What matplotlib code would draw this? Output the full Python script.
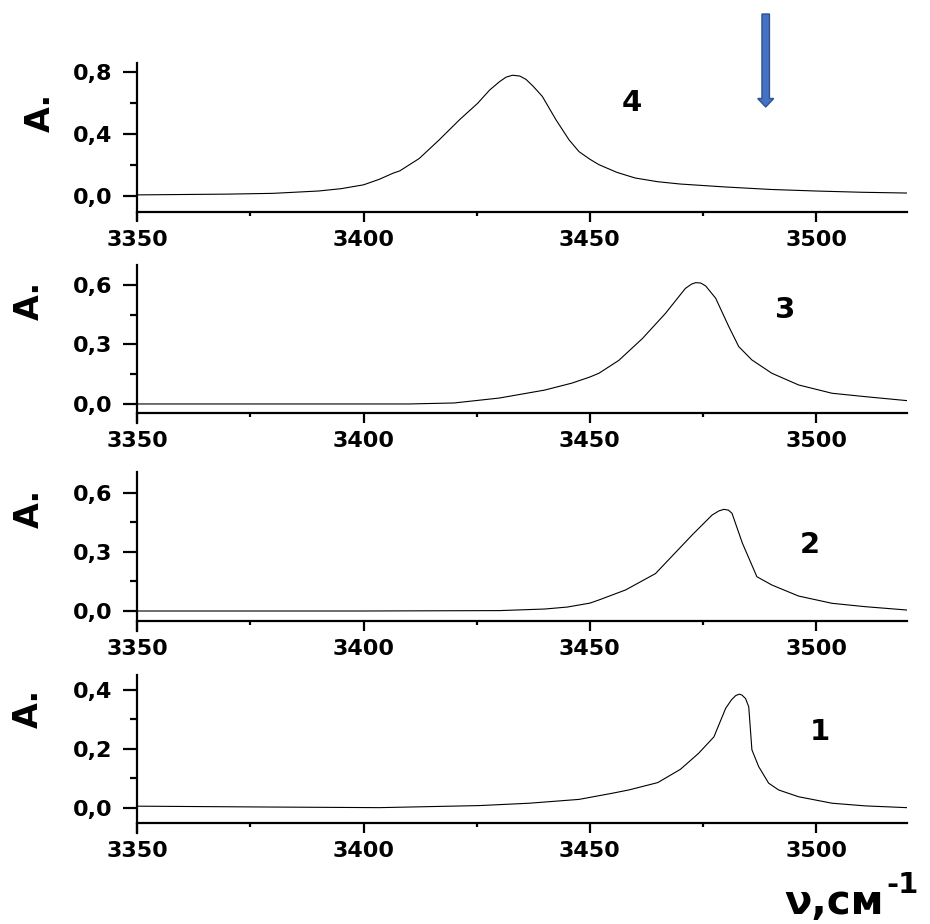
import matplotlib
matplotlib.use("Agg")
import matplotlib.pyplot as plt
from matplotlib.ticker import MultipleLocator, FuncFormatter
from matplotlib.patches import FancyArrow

# IR spectra, absorbance vs wavenumber
nu_4 = [3350, 3370, 3380, 3390, 3395, 3400, 3403.5, 3406.5, 3408, 3412.3, 3416.7, 3421.2,
        3425.2, 3427.8, 3430, 3431.5, 3432.9, 3434.5, 3435.9, 3437.5, 3439.5, 3442.5,
        3445.4, 3447.6, 3450, 3452, 3456, 3460, 3465, 3470, 3480, 3490, 3500, 3510, 3520]
a_4 = [0.005, 0.01, 0.015, 0.03, 0.045, 0.07, 0.106, 0.145, 0.16, 0.24, 0.36, 0.49,
       0.596, 0.68, 0.735, 0.765, 0.777, 0.772, 0.75, 0.705, 0.64, 0.49,
       0.36, 0.284, 0.235, 0.2, 0.15, 0.114, 0.09, 0.075, 0.056, 0.04, 0.03, 0.022, 0.017]

nu_3 = [3350, 3380, 3410, 3420, 3430, 3440, 3446, 3450, 3452, 3456.4, 3461.6, 3466.7,
        3471.1, 3472.5, 3473.4, 3474.5, 3475.6, 3477.8, 3480.7, 3482.9, 3485.8, 3490.2,
        3496.1, 3503.5, 3510.8, 3520]
a_3 = [0.0, 0.0, 0.0, 0.005, 0.03, 0.07, 0.105, 0.136, 0.155, 0.22, 0.33, 0.457,
       0.583, 0.605, 0.612, 0.61, 0.595, 0.533, 0.39, 0.289, 0.222, 0.155,
       0.096, 0.054, 0.037, 0.017]

nu_2 = [3350, 3400, 3430, 3440, 3445, 3450, 3452, 3457.9, 3464.5, 3472.6, 3477, 3478.5,
        3479.6, 3480.6, 3481.4, 3483.7, 3486.9, 3490.2, 3496.1, 3503.5, 3510.8, 3520]
a_2 = [0.0, 0.0, 0.002, 0.01, 0.02, 0.04, 0.056, 0.107, 0.19, 0.386, 0.487, 0.508,
       0.516, 0.512, 0.496, 0.344, 0.174, 0.132, 0.076, 0.039, 0.022, 0.005]

nu_1 = [3350, 3380, 3403.5, 3425.6, 3436.6, 3447.6, 3455, 3458.6, 3465, 3470, 3474,
        3477.4, 3480, 3481.3, 3482.2, 3483, 3483.6, 3484.4, 3485.1, 3485.8, 3487.3,
        3489.5, 3491.7, 3496.1, 3503.5, 3510.8, 3520]
a_1 = [0.005, 0.002, 0.0, 0.007, 0.015, 0.028, 0.049, 0.06, 0.085, 0.13, 0.184,
       0.24, 0.337, 0.366, 0.38, 0.385, 0.382, 0.37, 0.342, 0.196, 0.139,
       0.083, 0.06, 0.037, 0.015, 0.006, 0.0]

curve_names = ["4", "3", "2", "1"]
y_limits = [(-0.157, 0.858), (-0.096, 0.701), (-0.100, 0.704), (-0.085, 0.45)]
y_major = [0.4, 0.3, 0.3, 0.2]
x_ticks = [3350, 3400, 3450, 3500]

W, H = 930, 924
fig = plt.figure(figsize=(W / 100, H / 100), dpi=100)

# panel pixel boxes (top, bottom), spine offset, label positions
boxes = [(62.7, 220.0), (265.0, 423.0), (472.3, 630.7), (675.0, 832.7)]
spine_pos = [0.053, 0.063, 0.061, 0.061]
name_pos = [(632, 103), (785, 310), (810, 545), (820, 732)]
alabel_pos = [(40, 112), (29, 300), (29, 508), (28, 708)]
data = [(nu_4, a_4), (nu_3, a_3), (nu_2, a_2), (nu_1, a_1)]

left, right = 137.3, 906.7
for i, (nu, a) in enumerate(data):
    top, bot = boxes[i]
    ax = fig.add_axes([left / W, 1 - bot / H, (right - left) / W, (bot - top) / H])
    ax.plot(nu, a, color='black', lw=0.8)
    ax.set_xlim(3350, 3520)

    ax.spines['top'].set_visible(False)
    ax.spines['right'].set_visible(False)
    ax.spines['left'].set_linewidth(1.6)
    ax.spines['bottom'].set_linewidth(1.6)
    ax.spines['bottom'].set_position(('axes', spine_pos[i]))

    ax.set_xticks(x_ticks)
    ax.xaxis.set_minor_locator(MultipleLocator(25))
    ax.yaxis.set_major_locator(MultipleLocator(y_major[i]))
    ax.yaxis.set_minor_locator(MultipleLocator(y_major[i] / 2))
    ax.set_ylim(*y_limits[i])
    ax.yaxis.set_major_formatter(FuncFormatter(lambda v, p: f"{v:.1f}".replace('.', ',')))

    ax.tick_params(axis='x', which='major', length=7, width=1.6, pad=6, labelsize=16)
    ax.tick_params(axis='x', which='minor', length=3, width=1.6)
    ax.tick_params(axis='y', which='major', length=10, width=1.6, pad=8, labelsize=16)
    ax.tick_params(axis='y', which='minor', length=5, width=1.6)
    for lab in ax.get_xticklabels() + ax.get_yticklabels():
        lab.set_fontweight('bold')

    nx, ny = name_pos[i]
    fig.text(nx / W, 1 - ny / H, curve_names[i], fontsize=21, fontweight='bold',
             ha='center', va='center')
    lx, ly = alabel_pos[i]
    fig.text(lx / W, 1 - ly / H, "A.", fontsize=24, fontweight='bold', rotation=90,
             ha='center', va='center')

# axis title at bottom right
fig.text(884 / W, 1 - 903 / H, "ν,см", fontsize=29, fontweight='bold', ha='right', va='center')
fig.text(886 / W, 1 - 885 / H, "-1", fontsize=21, fontweight='bold', ha='left', va='center')

# blue arrow at the top
arrow = FancyArrow(765.7 / 100, (H - 14) / 100, 0, -(107 - 14) / 100,
                   width=0.075, head_width=0.16, head_length=0.085,
                   length_includes_head=True, facecolor='#4472C4', edgecolor='#2F528F',
                   lw=1, transform=fig.dpi_scale_trans)
fig.patches.append(arrow)

fig.savefig("out.png", dpi=100)
